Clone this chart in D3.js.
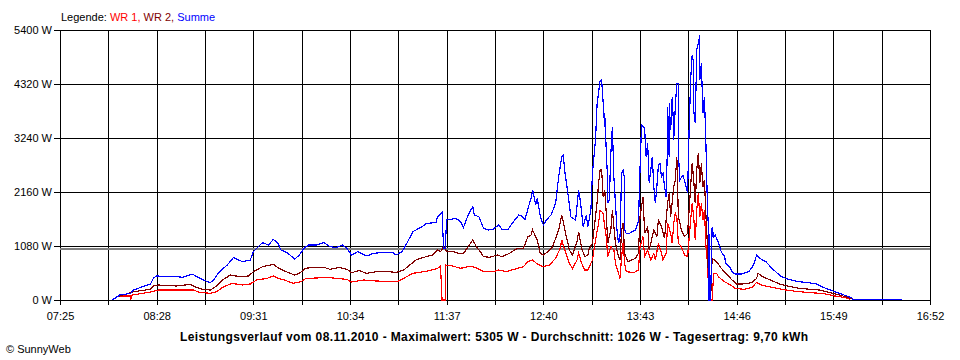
<!DOCTYPE html>
<html lang="de">
<head>
<meta charset="utf-8">
<script src="https://d3js.org/d3.v7.min.js"></script>
<style>
  body { margin: 0; background: #fff; }
  text { font-family: "Liberation Sans", Arial, sans-serif; font-size: 11px; }
</style>
</head>
<body>
<div id="graph"></div>
<script>
// tick labels
var xLabels = ["07:25","08:28","09:31","10:34","11:37","12:40","13:43","14:46","15:49","16:52"];
var yTicks = [0, 1080, 2160, 3240, 4320, 5400];
var average = 1026;

// Summe (blau)
var sumTimes = ["07:59","08:04","08:11","08:12","08:13","08:19","08:24","08:26","08:28","08:35","08:41","08:45","08:51","08:56","09:01","09:03","09:05","09:09","09:14","09:18","09:24","09:29","09:31","09:37","09:41","09:44","09:47","09:49","09:53","09:58","10:01","10:04","10:07","10:12","10:17","10:21","10:25","10:29","10:32","10:35","10:39","10:45","10:49","10:56","11:02","11:04","11:08","11:11","11:15","11:21","11:24","11:30","11:31","11:34","11:35","11:36","11:37","11:41","11:43","11:46","11:48","11:51","11:54","11:55","11:58","12:01","12:04","12:07","12:11","12:13","12:17","12:20","12:24","12:26","12:28","12:30","12:32","12:33","12:35","12:36","12:38","12:40","12:42","12:45","12:48","12:50","12:52","12:53","12:54","12:56","12:58","13:01","13:03","13:04","13:06","13:08","13:09","13:11","13:12","13:14","13:15","13:16","13:17","13:18","13:19","13:20","13:20","13:21","13:22","13:22","13:23","13:24","13:25","13:26","13:27","13:28","13:29","13:30","13:31","13:32","13:33","13:33","13:34","13:36","13:40","13:42","13:43","13:44","13:46","13:47","13:48","13:49","13:51","13:52","13:53","13:54","13:55","13:56","13:57","13:58","13:59","14:00","14:01","14:01","14:02","14:02","14:03","14:04","14:05","14:05","14:06","14:07","14:08","14:08","14:09","14:11","14:13","14:14","14:15","14:16","14:17","14:18","14:18","14:19","14:20","14:21","14:22","14:22","14:23","14:24","14:25","14:26","14:27","14:28","14:28","14:29","14:30","14:31","14:32","14:34","14:36","14:38","14:39","14:42","14:43","14:45","14:49","14:54","14:57","14:59","15:01","15:05","15:09","15:15","15:20","15:26","15:33","15:38","15:44","15:50","15:56","16:01","16:02","16:34"];
var sumValues = [0,100,133,167,200,267,320,440,480,467,467,453,520,440,367,347,400,567,700,847,767,800,967,1147,1100,1213,1133,1000,947,820,900,1033,1100,1100,1147,1067,1047,1100,1033,900,967,880,933,953,947,900,967,1133,1367,1467,1533,1547,1667,1747,1033,1033,1600,1620,1633,1567,1453,1700,1867,1700,1667,1433,1400,1413,1500,1413,1413,1547,1700,1680,1600,1833,2033,2200,1900,2033,1680,1500,1600,1700,1933,2467,2867,2900,2567,2133,1660,1600,2200,2000,1467,1700,1467,1800,2540,3200,3900,4160,4380,4400,3940,3467,3733,3000,2333,1933,2000,2933,3467,2440,1933,1400,1133,1267,2533,2600,2400,1400,1333,1333,1400,1567,2600,3500,3433,2867,3133,2333,2867,2267,1933,2267,2700,2733,2467,2533,2267,2067,3200,3867,2867,3933,3400,4067,3400,3200,3867,4333,4333,2933,2400,2500,2267,2133,3400,4400,4900,4733,3800,3533,5000,5133,5305,4400,4733,3733,4067,3067,1800,1267,0,0,1450,1267,1300,1160,960,880,733,640,567,520,520,567,700,900,833,767,633,467,413,367,347,320,233,167,100,47,10,10];

// WR 2 (dunkelrot)
var wr2Times = ["08:03","08:04","08:13","08:24","08:26","08:29","08:41","08:50","08:54","08:58","09:03","09:07","09:11","09:16","09:22","09:28","09:31","09:37","09:44","09:47","09:49","09:55","09:58","10:01","10:05","10:10","10:17","10:21","10:27","10:32","10:35","10:40","10:45","10:51","11:00","11:04","11:09","11:13","11:17","11:22","11:28","11:31","11:33","11:35","11:37","11:41","11:45","11:48","11:51","11:54","11:57","11:59","12:01","12:05","12:10","12:13","12:18","12:23","12:27","12:30","12:32","12:33","12:36","12:38","12:40","12:43","12:46","12:50","12:52","12:53","12:55","12:57","12:59","13:02","13:03","13:05","13:07","13:09","13:10","13:12","13:15","13:16","13:17","13:18","13:19","13:20","13:21","13:22","13:24","13:25","13:27","13:29","13:30","13:31","13:32","13:33","13:35","13:40","13:42","13:43","13:45","13:46","13:48","13:49","13:52","13:54","13:55","13:57","13:59","14:01","14:02","14:03","14:05","14:06","14:07","14:08","14:10","14:12","14:14","14:16","14:17","14:18","14:19","14:20","14:21","14:22","14:23","14:24","14:25","14:26","14:27","14:28","14:29","14:30","14:33","14:36","14:39","14:43","14:46","14:50","14:56","14:59","15:00","15:03","15:08","15:14","15:21","15:27","15:34","15:40","15:47","15:53","15:59","16:02"];
var wr2Values = [67,80,167,213,280,300,280,313,253,213,200,280,400,500,467,480,567,667,713,647,613,533,500,533,633,653,653,613,653,613,547,587,533,567,567,547,600,700,800,853,900,1000,967,1067,967,967,933,933,1067,1200,1033,967,867,853,900,867,933,1033,1033,1267,1300,1400,1200,933,900,967,1067,1400,1700,1567,1267,1000,900,1167,1367,1033,867,900,1033,1133,1933,2333,2600,2600,2067,2200,1733,1133,1400,1800,1133,867,800,1400,1533,933,767,833,933,1667,2067,1333,1467,1000,1400,1267,1600,1467,1233,1933,2133,1667,2267,2400,2867,1667,1400,1267,1333,2267,2733,2400,1933,2600,2933,2333,2733,2267,2400,1667,1067,0,0,833,760,633,533,400,320,320,347,433,533,467,400,320,267,233,213,200,147,100,47,13];

// WR 1 (rot)
var wr1Times = ["08:03","08:07","08:11","08:11","08:12","08:19","08:25","08:29","08:35","08:43","08:52","08:56","09:03","09:07","09:11","09:17","09:24","09:29","09:33","09:40","09:44","09:47","09:50","09:57","10:02","10:05","10:12","10:19","10:25","10:32","10:35","10:43","10:51","11:02","11:05","11:11","11:15","11:22","11:26","11:31","11:33","11:34","11:36","11:36","11:41","11:46","11:51","11:54","11:57","12:01","12:07","12:11","12:16","12:23","12:27","12:30","12:33","12:36","12:40","12:44","12:48","12:51","12:52","12:54","12:57","12:59","13:02","13:03","13:05","13:07","13:09","13:12","13:14","13:16","13:17","13:19","13:20","13:21","13:22","13:24","13:26","13:27","13:29","13:30","13:31","13:32","13:33","13:34","13:39","13:42","13:43","13:45","13:46","13:48","13:50","13:52","13:53","13:55","13:57","13:58","14:00","14:01","14:03","14:04","14:05","14:06","14:07","14:08","14:10","14:12","14:14","14:16","14:17","14:18","14:19","14:20","14:21","14:22","14:23","14:24","14:25","14:26","14:27","14:28","14:30","14:31","14:33","14:34","14:38","14:42","14:45","14:51","14:56","14:59","15:02","15:09","15:18","15:26","15:35","15:44","15:50","15:57","16:00"];
var wr1Values = [67,80,80,0,100,133,167,200,200,200,200,153,133,167,253,333,300,320,400,433,480,433,413,333,367,427,440,453,433,413,360,400,380,367,367,467,533,567,587,633,680,0,0,700,680,633,667,667,633,567,567,600,567,633,667,767,800,720,667,700,833,1033,1200,1000,733,633,800,933,733,600,600,800,1200,1533,1800,1733,1467,1267,867,1067,1000,733,533,433,867,1133,733,567,547,600,1067,1267,867,1000,800,933,800,1133,933,800,933,1533,1333,1133,1533,1733,1667,1133,1067,900,867,1600,1933,1667,1200,1800,2133,1667,1933,1600,1800,1067,733,0,0,533,533,467,367,300,233,213,253,353,300,253,200,167,147,120,80,47,13];

var W = 960, H = 360;
var margin = {top: 30, right: 30, bottom: 60, left: 60},
    width = W - margin.left - margin.right,
    height = H - margin.top - margin.bottom;

var parse = d3.timeParse("%H:%M");

var svg = d3.select("#graph")
  .append("svg")
    .attr("width", W)
    .attr("height", H);

var g = svg.append("g")
    .attr("transform", "translate(" + margin.left + "," + margin.top + ")");

var x = d3.scaleTime()
  .domain([parse(xLabels[0]), parse(xLabels[xLabels.length - 1])])
  .range([0, width]);

var y = d3.scaleLinear()
  .domain([0, 5400])
  .range([height, 0]);

// vertical grid every half label step
var labelDates = xLabels.map(parse);
var gridDates = [];
labelDates.forEach(function(d, i) {
  gridDates.push(d);
  if (i < labelDates.length - 1)
    gridDates.push(new Date((d.getTime() + labelDates[i + 1].getTime()) / 2));
});

// x axis with grid
var xAxis = g.append("g")
  .attr("transform", "translate(0," + height + ")")
  .call(d3.axisBottom(x)
    .tickValues(gridDates)
    .tickSizeOuter(0)
    .tickFormat(function(d) { return xLabels.indexOf(d3.timeFormat("%H:%M")(d)) >= 0 ? d3.timeFormat("%H:%M")(d) : ""; }));
xAxis.select(".domain").remove();
xAxis.selectAll("line")
  .attr("y1", 5)
  .attr("y2", -height)
  .attr("stroke", "#000")
  .attr("shape-rendering", "crispEdges");
xAxis.selectAll("text")
  .attr("y", 12)
  .attr("fill", "#000")
  .style("font-size", "11px");

// y axis with grid
var yAxis = g.append("g")
  .call(d3.axisLeft(y)
    .tickValues(yTicks)
    .tickSizeOuter(0)
    .tickFormat(function(d) { return d + " W"; }));
yAxis.select(".domain").remove();
yAxis.selectAll("line")
  .attr("x1", -6)
  .attr("x2", width)
  .attr("stroke", "#000")
  .attr("shape-rendering", "crispEdges");
yAxis.selectAll("text")
  .attr("x", -8)
  .attr("fill", "#000")
  .style("font-size", "11px");

// average line
g.append("line")
  .attr("x1", 0)
  .attr("x2", width)
  .attr("y1", y(average))
  .attr("y2", y(average))
  .attr("stroke", "#808080")
  .attr("stroke-width", 2)
  .attr("shape-rendering", "crispEdges");

var line = d3.line()
  .x(function(d) { return x(d[0]); })
  .y(function(d) { return y(d[1]); });

function series(times, values, color) {
  var data = times.map(function(t, i) { return [parse(t), values[i]]; });
  g.append("path")
    .datum(data)
    .attr("fill", "none")
    .attr("stroke", color)
    .attr("stroke-width", 1.2)
    .attr("shape-rendering", "crispEdges")
    .attr("d", line);
}

series(wr1Times, wr1Values, "#ff0000");
series(wr2Times, wr2Values, "#800000");
series(sumTimes, sumValues, "#0000ff");

// legend
var legend = svg.append("text")
  .attr("x", 61)
  .attr("y", 21);
legend.append("tspan").attr("fill", "#000").text("Legende: ");
legend.append("tspan").attr("fill", "#ff0000").text("WR 1, ");
legend.append("tspan").attr("fill", "#800000").text("WR 2, ");
legend.append("tspan").attr("fill", "#0000ff").text("Summe");

// caption
svg.append("text")
  .attr("x", 494)
  .attr("y", 341)
  .attr("text-anchor", "middle")
  .attr("textLength", 628)
  .attr("lengthAdjust", "spacing")
  .style("font-weight", "bold")
  .style("font-size", "12px")
  .text("Leistungsverlauf vom 08.11.2010 - Maximalwert: 5305 W - Durchschnitt: 1026 W - Tagesertrag: 9,70 kWh");

svg.append("text")
  .attr("x", 6)
  .attr("y", 353)
  .text("\u00a9 SunnyWeb");
</script>
</body>
</html>
